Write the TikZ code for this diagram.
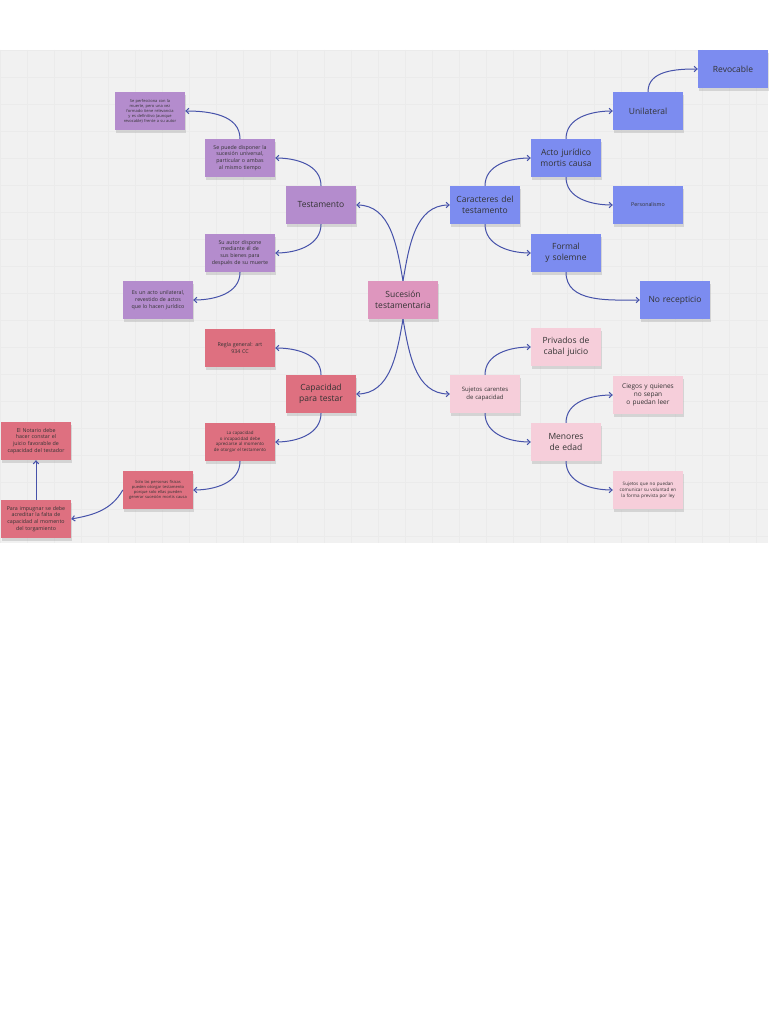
\documentclass[tikz,border=0pt]{standalone}
\usepackage{fontspec}
\setmainfont{Open Sans}
\usetikzlibrary{arrows.meta,shadows}
\definecolor{purp}{RGB}{180,140,205}
\definecolor{redp}{RGB}{222,112,128}
\definecolor{blu}{RGB}{124,140,240}
\definecolor{lpink}{RGB}{246,206,218}
\definecolor{cen}{RGB}{222,150,190}
\definecolor{arr}{RGB}{70,82,170}
\definecolor{bg}{RGB}{241,241,241}
\hyphenpenalty=10000
\exhyphenpenalty=10000
\begin{document}
\begin{tikzpicture}[x=1pt,y=-1pt,
 box/.style={minimum width=70pt,minimum height=38pt,inner sep=1pt,align=center,text width=60pt,
   drop shadow={opacity=0.25,shadow xshift=1pt,shadow yshift=-3pt},text=black!80},
 big/.style={box,font=\fontsize{8.5}{10.5}\selectfont},
 sm/.style={box,font=\fontsize{5.3}{6.8}\selectfont},
 tn/.style={box,font=\fontsize{4}{5.1}\selectfont},
 ar/.style={draw=arr,line width=1pt,-{Straight Barb[length=3pt,width=5.5pt]}}]
\useasboundingbox (0,0) rectangle (768,1024);
\fill[white] (0,0) rectangle (768,1024);
\fill[bg] (0,50) rectangle (768,543);
\begin{scope}
\clip (0,50) rectangle (768,543);
\foreach \x in {0,27,...,768} \draw[black!8,line width=0.3pt] (\x,50) -- (\x,543);
\foreach \y in {50,77,...,543} \draw[black!8,line width=0.3pt] (0,\y) -- (768,\y);
\end{scope}
\node[big,fill=cen] (c) at (403,300) {Sucesión testamentaria};
\node[big,fill=purp] (t) at (321,205) {Testamento};
\node[sm,fill=purp] (sp) at (240,158) {Se puede disponer la sucesión universal, particular o ambas al mismo tiempo};
\node[tn,fill=purp] (pf) at (150,111) {Se perfecciona con la muerte, pero una vez formado tiene relevancia y es definitivo (aunque revocable) frente a su autor};
\node[sm,fill=purp] (sa) at (240,253) {Su autor dispone mediante él de sus bienes para después de su muerte};
\node[sm,fill=purp] (eu) at (158,300) {Es un acto unilateral, revestido de actos que lo hacen jurídico};
\node[big,fill=redp] (cp) at (321,394) {Capacidad para testar};
\node[sm,fill=redp] (rg) at (240,348) {Regla general: art\\ 934 CC};
\node[tn,fill=redp,font=\fontsize{4.4}{5.6}\selectfont] (lc) at (240,442) {La capacidad\\ o incapacidad debe apreciarse al momento de otorgar el testamento};
\node[tn,fill=redp] (so) at (158,490) {Solo las personas físicas pueden otorgar testamento porque solo ellas pueden generar sucesión mortis causa};
\node[sm,fill=redp] (no) at (36,441) {El Notario debe hacer constar el juicio favorable de capacidad del testador};
\node[sm,fill=redp] (pi) at (36,519) {Para impugnar se debe acreditar la falta de capacidad al momento del torgamiento};
\node[big,fill=blu] (ca) at (485,205) {Caracteres del testamento};
\node[big,fill=blu] (aj) at (566,158) {Acto jurídico mortis causa};
\node[big,fill=blu] (un) at (648,111) {Unilateral};
\node[big,fill=blu] (rv) at (733,69) {Revocable};
\node[sm,fill=blu] (pe) at (648,205) {Personalismo};
\node[big,fill=blu] (fs) at (566,253) {Formal\\ y solemne};
\node[big,fill=blu] (nr) at (675,300) {No recepticio};
\node[sm,fill=lpink,font=\fontsize{6}{7.5}\selectfont] (sc) at (485,394) {Sujetos carentes de capacidad};
\node[big,fill=lpink] (pr) at (566,347) {Privados de cabal juicio};
\node[big,fill=lpink] (me) at (566,442) {Menores de edad};
\node[sm,fill=lpink,font=\fontsize{6.5}{8}\selectfont] (ci) at (648,395) {Ciegos y quienes no sepan\\ o puedan leer};
\node[tn,fill=lpink,font=\fontsize{4.6}{6}\selectfont] (sq) at (648,490) {Sujetos que no puedan comunicar su voluntad en la forma prevista por ley};
\draw[ar] (c.north) to[out=100,in=0] (t.east);
\draw[ar] (c.north) to[out=80,in=180] (ca.west);
\draw[ar] (c.south) to[out=-100,in=0] (cp.east);
\draw[ar] (c.south) to[out=-80,in=180] (sc.west);
\draw[ar] (t.north) to[out=90,in=0] (sp.east);
\draw[ar] (t.south) to[out=-90,in=0] (sa.east);
\draw[ar] (sp.north) to[out=90,in=0] (pf.east);
\draw[ar] (sa.south) to[out=-90,in=0] (eu.east);
\draw[ar] (cp.north) to[out=90,in=0] (rg.east);
\draw[ar] (cp.south) to[out=-90,in=0] (lc.east);
\draw[ar] (lc.south) to[out=-90,in=0] (so.east);
\draw[ar] (so.west) to[out=240,in=10] (pi.east);
\draw[ar] (pi.north) -- (no.south);
\draw[ar] (ca.north) to[out=90,in=180] (aj.west);
\draw[ar] (ca.south) to[out=-90,in=180] (fs.west);
\draw[ar] (aj.north) to[out=90,in=180] (un.west);
\draw[ar] (aj.south) to[out=-90,in=180] (pe.west);
\draw[ar] (un.north) to[out=90,in=180] (rv.west);
\draw[ar] (fs.south) to[out=-90,in=180] (nr.west);
\draw[ar] (sc.north) to[out=90,in=180] (pr.west);
\draw[ar] (sc.south) to[out=-90,in=180] (me.west);
\draw[ar] (me.north) to[out=90,in=180] (ci.west);
\draw[ar] (me.south) to[out=-90,in=180] (sq.west);
\end{tikzpicture}
\end{document}
